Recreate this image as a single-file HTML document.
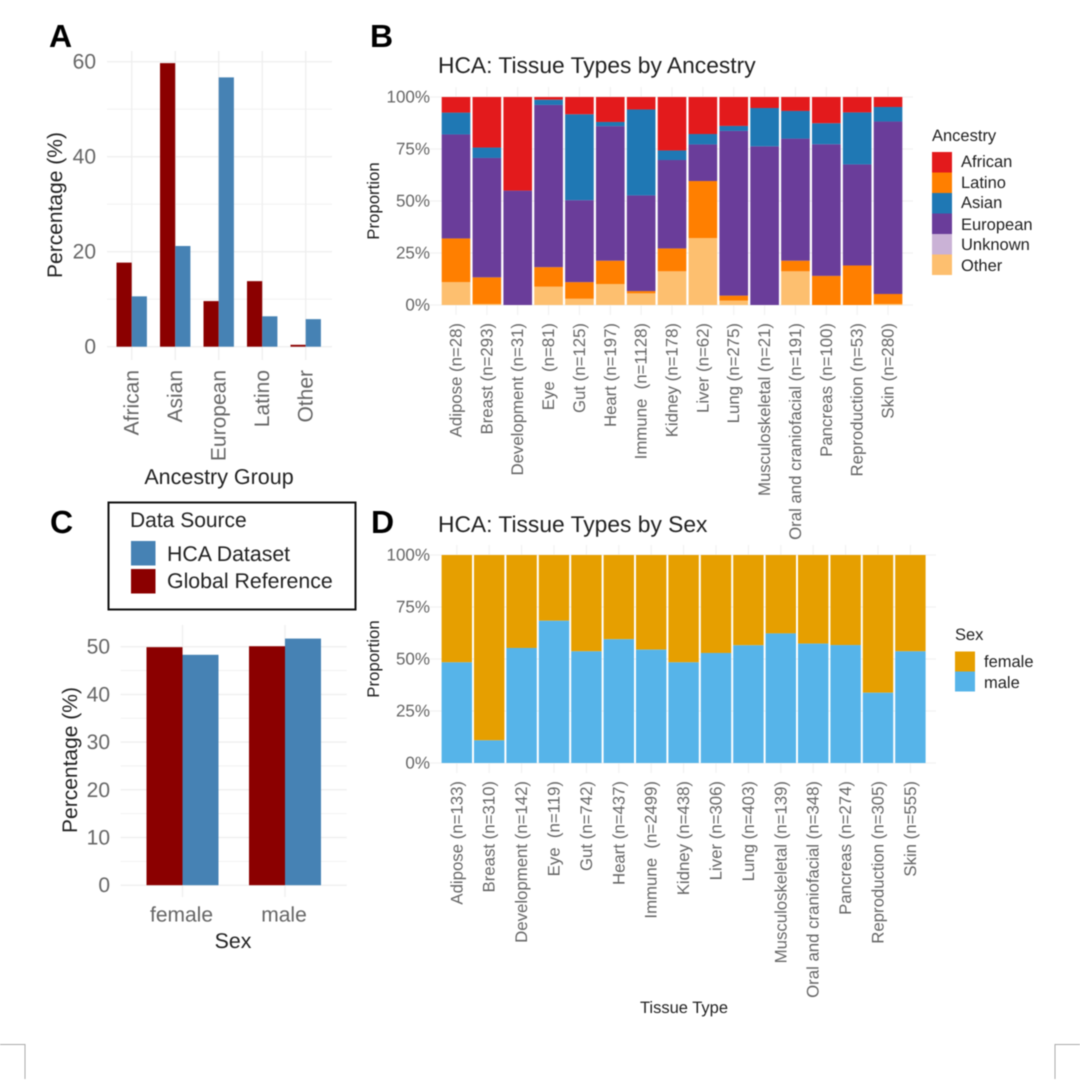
<!DOCTYPE html>
<html lang="en">
<head>
<meta charset="utf-8">
<title>HCA ancestry and sex composition</title>
<style>
html,body{margin:0;padding:0;background:#fff;}
body{width:1080px;height:1081px;overflow:hidden;}
svg{display:block;filter:blur(0.45px);}
text{font-family:"Liberation Sans",sans-serif;white-space:pre;text-rendering:geometricPrecision;}
.tick{fill:#666;}
.ttl{fill:#222;}
.tag{font-weight:bold;font-size:32px;fill:#000;}
</style>
</head>
<body>
<svg id="fig" xmlns="http://www.w3.org/2000/svg" width="1080" height="1081" viewBox="0 0 1080 1081">
  <rect x="0" y="0" width="1080" height="1081" fill="#fff"/>
  <g id="layer-a"></g>
  <g id="layer-b"></g>
  <g id="layer-c"></g>
  <g id="layer-d"></g>

  <text class="tag" x="49" y="47">A</text>
  <text class="tag" x="370" y="47">B</text>
  <text class="tag" x="50" y="533">C</text>
  <text class="tag" x="371" y="533">D</text>

  <text class="ttl" font-size="21" transform="translate(62,205) rotate(-90)" text-anchor="middle">Percentage (%)</text>
  <text class="ttl" font-size="21.5" x="219" y="484" text-anchor="middle">Ancestry Group</text>

  <text class="ttl" font-size="22.8" x="438" y="73">HCA: Tissue Types by Ancestry</text>
  <text class="ttl" font-size="16.8" transform="translate(379,201) rotate(-90)" text-anchor="middle">Proportion</text>

  <g>
    <text class="ttl" font-size="16.5" x="932" y="141">Ancestry</text>
    <rect x="932" y="152" width="20" height="20.5" fill="#e31a1c"/>
    <rect x="932" y="172.5" width="20" height="20.5" fill="#ff7f00"/>
    <rect x="932" y="193" width="20" height="20.5" fill="#1f78b4"/>
    <rect x="932" y="213.5" width="20" height="20.5" fill="#6a3d9a"/>
    <rect x="932" y="234" width="20" height="20.5" fill="#cab2d6"/>
    <rect x="932" y="254.5" width="20" height="20.5" fill="#fdbf6f"/>
    <text class="ttl" font-size="16.5" x="961" y="167">African</text>
    <text class="ttl" font-size="16.5" x="961" y="188">Latino</text>
    <text class="ttl" font-size="16.5" x="961" y="208">Asian</text>
    <text class="ttl" font-size="16.5" x="961" y="230">European</text>
    <text class="ttl" font-size="16.5" x="961" y="250">Unknown</text>
    <text class="ttl" font-size="16.5" x="961" y="271">Other</text>
  </g>

  <g>
    <rect x="108.5" y="502.5" width="247" height="107" fill="#fff" stroke="#111" stroke-width="2"/>
    <text class="ttl" font-size="21" x="130" y="527">Data Source</text>
    <rect x="131" y="541" width="24.5" height="24.5" fill="#4682b4"/>
    <rect x="131" y="569" width="24.5" height="24.5" fill="#8b0000"/>
    <text class="ttl" font-size="21.3" x="167" y="561">HCA Dataset</text>
    <text class="ttl" font-size="21.3" x="167" y="588">Global Reference</text>
  </g>

  <text class="ttl" font-size="21" transform="translate(77,760) rotate(-90)" text-anchor="middle">Percentage (%)</text>
  <text class="ttl" font-size="21.3" x="233" y="948" text-anchor="middle">Sex</text>

  <text class="ttl" font-size="22.8" x="438" y="532">HCA: Tissue Types by Sex</text>
  <text class="ttl" font-size="16.8" transform="translate(379,659) rotate(-90)" text-anchor="middle">Proportion</text>
  <text class="ttl" font-size="16.5" x="684" y="1013" text-anchor="middle">Tissue Type</text>

  <g>
    <text class="ttl" font-size="16.5" x="955" y="640">Sex</text>
    <rect x="955" y="651.5" width="20" height="20" fill="#e69f00"/>
    <rect x="955" y="671.5" width="20" height="20" fill="#56b4e9"/>
    <text class="ttl" font-size="16.5" x="984" y="667">female</text>
    <text class="ttl" font-size="16.5" x="984" y="688">male</text>
  </g>

  <path d="M0 1044.5H25V1079" fill="none" stroke="#aaa" stroke-width="1"/>
  <path d="M1080 1044.5H1055V1079" fill="none" stroke="#aaa" stroke-width="1"/>
</svg>

<script>
// Panel A data
const ancestryGroups = ['African', 'Asian', 'European', 'Latino', 'Other'];
const ancestryGlobal = [17.7, 59.7, 9.6, 13.8, 0.4];
const ancestryHca = [10.6, 21.2, 56.7, 6.4, 5.8];
const ancestryTicks = [0, 20, 40, 60];
const ancestryMinorTicks = [10, 30, 50];

// Panel B data (percent of each tissue)
const tissueLabelsB = ['Adipose (n=28)', 'Breast (n=293)', 'Development (n=31)', 'Eye  (n=81)', 'Gut (n=125)', 'Heart (n=197)', 'Immune  (n=1128)', 'Kidney (n=178)', 'Liver (n=62)', 'Lung (n=275)', 'Musculoskeletal (n=21)', 'Oral and craniofacial (n=191)', 'Pancreas (n=100)', 'Reproduction (n=53)', 'Skin (n=280)'];
const shareOther = [11, 0.5, 0, 8.8, 3, 10.1, 5.6, 16.2, 32.2, 2.1, 0, 16.2, 0, 0, 0.5];
const shareUnknown = [0, 0, 0, 0, 0, 0, 0, 0, 0, 0, 0, 0, 0, 0, 0];
const shareLatino = [21, 12.8, 0, 9.4, 8, 11.2, 1.1, 11, 27.4, 2.4, 0, 5.1, 14, 19, 4.8];
const shareEuropean = [50, 57.4, 55, 78, 39.4, 64.7, 46, 42.5, 17.6, 79.2, 76.3, 58.7, 63.3, 48.6, 82.9];
const shareAsian = [10.5, 5, 0, 2.5, 41.3, 2, 41.3, 4.6, 5, 2.4, 18.4, 13.3, 10.1, 25, 7];
const shareAfrican = [7.5, 24.3, 45, 1.3, 8.3, 12, 6, 25.7, 17.8, 13.9, 5.3, 6.7, 12.6, 7.4, 4.8];
const proportionTicks = [0, 25, 50, 75, 100];

// Panel C data
const sexGroups = ['female', 'male'];
const sexGlobal = [49.9, 50.1];
const sexHca = [48.3, 51.7];
const sexTicks = [0, 10, 20, 30, 40, 50];
const sexMinorTicks = [5, 15, 25, 35, 45];

// Panel D data (percent of each tissue)
const tissueLabelsD = ['Adipose (n=133)', 'Breast (n=310)', 'Development (n=142)', 'Eye  (n=119)', 'Gut (n=742)', 'Heart (n=437)', 'Immune  (n=2499)', 'Kidney (n=438)', 'Liver (n=306)', 'Lung (n=403)', 'Musculoskeletal (n=139)', 'Oral and craniofacial (n=348)', 'Pancreas (n=274)', 'Reproduction (n=305)', 'Skin (n=555)'];
const shareMale = [48.4, 10.9, 55.3, 68.4, 53.7, 59.5, 54.5, 48.4, 52.9, 56.6, 62.3, 57.4, 56.7, 33.8, 53.7];

const SVGNS = 'http://www.w3.org/2000/svg';
function make(parent, tag, attrs, txt) {
  const node = document.createElementNS(SVGNS, tag);
  for (const k in attrs) node.setAttribute(k, attrs[k]);
  if (txt !== undefined) node.textContent = txt;
  parent.appendChild(node);
  return node;
}
function linear(d0, d1, r0, r1) {
  return v => r0 + (v - d0) * (r1 - r0) / (d1 - d0);
}
function band(first, step) {
  return i => first + i * step;
}
function slug(s) {
  return s.trim().split(' ')[0].toLowerCase();
}
function hLine(g, y, x0, x1, w, name) {
  const l = make(g, 'line', {x1: x0, x2: x1, y1: y, y2: y, stroke: '#efefef', 'stroke-width': w});
  
  
}
function vLine(g, x, y0, y1, w, name) {
  const l = make(g, 'line', {x1: x, x2: x, y1: y0, y2: y1, stroke: '#efefef', 'stroke-width': w});
  
  
}
function bar(g, x, w, yTop, yBase, fill, name) {
  const r = make(g, 'rect', {x: x, y: yTop, width: w, height: Math.max(0, yBase - yTop), fill: fill});
  
  
}
function yLabel(g, x, y, size, txt, name) {
  const t = make(g, 'text', {x: x, y: y, 'font-size': size, 'text-anchor': 'end', class: 'tick'}, txt);
  
  
}
function xLabelRot(g, x, y, size, txt, name) {
  const t = make(g, 'text', {transform: 'translate(' + x + ',' + y + ') rotate(-90)', 'font-size': size, 'text-anchor': 'end', class: 'tick'}, txt);
  
  
}
const RED = '#8b0000', BLUE = '#4682b4';

// ---- Panel A
(function () {
  const g = document.getElementById('layer-a');
  const y = linear(0, 60, 346.7, 61.7);
  const x = band(131.7, 43.5);
  ancestryMinorTicks.forEach(v => hLine(g, y(v), 107, 332, 0.8, 'a-minor-gridline'));
  ancestryTicks.forEach(v => hLine(g, y(v), 107, 332, 1.4, 'a-major-gridline'));
  ancestryGroups.forEach((c, i) => vLine(g, x(i), 51, 360, 1.4, 'a-vertical-gridline'));
  ancestryGroups.forEach((c, i) => {
    bar(g, x(i) - 15.2, 15.2, y(ancestryGlobal[i]), y(0), RED, 'bar-global-' + slug(c));
    bar(g, x(i), 15.2, y(ancestryHca[i]), y(0), BLUE, 'bar-hca-' + slug(c));
    xLabelRot(g, x(i) + 7, 370, 21, c, 'a-x-tick-' + slug(c));
  });
  ancestryTicks.forEach(v => yLabel(g, 96, y(v) + 7, 21, String(v), 'a-y-tick-' + v));
})();

// ---- Panel B
(function () {
  const g = document.getElementById('layer-b');
  const y = linear(0, 100, 305, 97);
  const x = band(456, 30.86);
  const w = 28.6;
  const layers = [
    ['other', shareOther, '#fdbf6f'],
    ['unknown', shareUnknown, '#cab2d6'],
    ['latino', shareLatino, '#ff7f00'],
    ['european', shareEuropean, '#6a3d9a'],
    ['asian', shareAsian, '#1f78b4'],
    ['african', shareAfrican, '#e31a1c']
  ];
  proportionTicks.forEach(v => hLine(g, y(v), 430, 913, 1, 'b-horizontal-gridline'));
  tissueLabelsB.forEach((c, i) => vLine(g, x(i), 87, 315, 1, 'b-vertical-gridline'));
  tissueLabelsB.forEach((c, i) => {
    let total = 0;
    layers.forEach(l => { total += l[1][i]; });
    let acc = 0;
    layers.forEach(l => {
      const v = l[1][i] * 100 / total;
      if (v > 0) bar(g, x(i) - w / 2, w, y(acc + v), y(acc), l[2], 'bar-' + l[0] + '-' + slug(c));
      acc += v;
    });
    xLabelRot(g, x(i) + 5.5, 323, 16.8, c, 'b-x-tick-' + slug(c));
  });
  proportionTicks.forEach(v => yLabel(g, 430, y(v) + 5.5, 17, v + '%', 'b-y-tick-' + v));
})();

// ---- Panel C
(function () {
  const g = document.getElementById('layer-c');
  const y = linear(0, 50, 885.2, 646.7);
  const x = band(182.5, 102.5);
  sexMinorTicks.forEach(v => hLine(g, y(v), 120.7, 346.7, 0.8, 'c-minor-gridline'));
  sexTicks.forEach(v => hLine(g, y(v), 120.7, 346.7, 1.4, 'c-major-gridline'));
  sexGroups.forEach((c, i) => vLine(g, x(i), 625, 897, 1.4, 'c-vertical-gridline'));
  sexGroups.forEach((c, i) => {
    bar(g, x(i) - 36, 36, y(sexGlobal[i]), y(0), RED, 'bar-global-' + c);
    bar(g, x(i), 36, y(sexHca[i]), y(0), BLUE, 'bar-hca-' + c);
    const t = make(g, 'text', {x: x(i) - 1, y: 921.5, 'font-size': 21, 'text-anchor': 'middle', class: 'tick'}, c);
    
    
  });
  sexTicks.forEach(v => yLabel(g, 110, y(v) + 7, 21, String(v), 'c-y-tick-' + v));
})();

// ---- Panel D
(function () {
  const g = document.getElementById('layer-d');
  const y = linear(0, 100, 763, 555);
  const x = band(456.8, 32.4);
  const w = 30.4;
  proportionTicks.forEach(v => hLine(g, y(v), 430, 936, 1, 'd-horizontal-gridline'));
  tissueLabelsD.forEach((c, i) => vLine(g, x(i), 545, 773, 1, 'd-vertical-gridline'));
  tissueLabelsD.forEach((c, i) => {
    bar(g, x(i) - w / 2, w, y(100), y(shareMale[i]), '#e69f00', 'bar-female-' + slug(c));
    bar(g, x(i) - w / 2, w, y(shareMale[i]), y(0), '#56b4e9', 'bar-male-' + slug(c));
    xLabelRot(g, x(i) + 5.5, 781, 16.8, c, 'd-x-tick-' + slug(c));
  });
  proportionTicks.forEach(v => yLabel(g, 430, y(v) + 5.5, 17, v + '%', 'd-y-tick-' + v));
})();
</script>
</body>
</html>
